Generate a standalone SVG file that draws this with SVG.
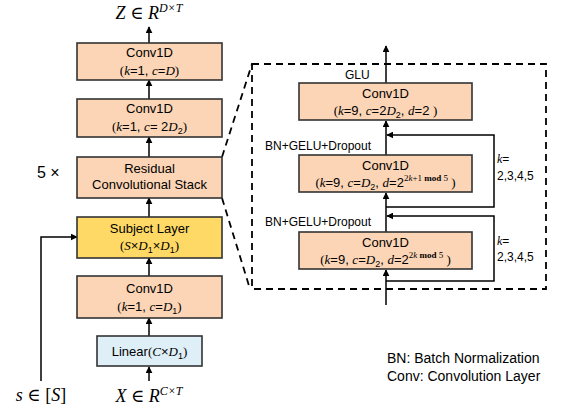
<svg xmlns="http://www.w3.org/2000/svg" width="562" height="411" viewBox="0 0 562 411">
  <defs>
    <marker id="arrow" viewBox="0 0 10 10" refX="9" refY="5" markerWidth="7" markerHeight="7" orient="auto" markerUnits="userSpaceOnUse">
      <path d="M0,0 L10,5 L0,10 z" fill="#000"/>
    </marker>
    <style>
      .box { stroke: #333; stroke-width: 1.6; }
      .conv { fill: #FBD5B5; }
      .subj { fill: #FFD966; }
      .lin { fill: #DEEFF7; }
      .line { fill: none; stroke: #000; stroke-width: 1.5; }
      .dash { fill: none; stroke: #000; stroke-width: 1.8; stroke-dasharray: 7 5; }
      .t { font-family: "Liberation Sans", Arial, sans-serif; font-size: 13px; fill: #000; }
      .s { font-family: "Liberation Sans", Arial, sans-serif; font-size: 12px; fill: #000; }
      .m { font-family: "Liberation Serif", "DejaVu Serif", serif; font-style: italic; }
      .r { font-family: "Liberation Serif", "DejaVu Serif", serif; font-style: normal; }
      .big { font-family: "Liberation Serif", "DejaVu Serif", serif; font-size: 18px; fill: #000; }
      .rep { font-family: "Liberation Sans", Arial, sans-serif; font-size: 16px; fill: #000; }
      .leg { font-family: "Liberation Sans", Arial, sans-serif; font-size: 14px; fill: #000; }
    </style>
  </defs>

  <!-- connectors -->
  <g id="connectors">
    <!-- left column -->
    <line class="line" x1="149" y1="381" x2="149" y2="367" marker-end="url(#arrow)"/>
    <line class="line" x1="149" y1="336" x2="149" y2="318" marker-end="url(#arrow)"/>
    <line class="line" x1="149" y1="276" x2="149" y2="258" marker-end="url(#arrow)"/>
    <line class="line" x1="149" y1="217" x2="149" y2="198" marker-end="url(#arrow)"/>
    <line class="line" x1="149" y1="157" x2="149" y2="137" marker-end="url(#arrow)"/>
    <line class="line" x1="149" y1="99" x2="149" y2="80" marker-end="url(#arrow)"/>
    <line class="line" x1="149" y1="43" x2="149" y2="27" marker-end="url(#arrow)"/>
    <polyline class="line" points="41,381 41,237 77,237" marker-end="url(#arrow)"/>

    <!-- zoom lines to the expanded stack -->
    <line class="dash" x1="222" y1="157" x2="252" y2="64"/>
    <line class="dash" x1="222" y1="198" x2="250" y2="289"/>
    <rect class="dash" x="252" y="64" width="294" height="225"/>

    <!-- right column -->
    <line class="line" x1="386" y1="305" x2="386" y2="270" marker-end="url(#arrow)"/>
    <line class="line" x1="386" y1="232" x2="386" y2="193" marker-end="url(#arrow)"/>
    <line class="line" x1="386" y1="155" x2="386" y2="121" marker-end="url(#arrow)"/>
    <line class="line" x1="386" y1="83" x2="386" y2="46" marker-end="url(#arrow)"/>

    <!-- residual skips -->
    <polyline class="line" points="386,281 494,281 494,216 387,216" marker-end="url(#arrow)"/>
    <polyline class="line" points="386,207 494,207 494,135 387,135" marker-end="url(#arrow)"/>
  </g>

  <!-- outer labels -->
  <text class="big" x="149" y="19" text-anchor="middle"><tspan class="m">Z</tspan> ∈ <tspan class="m">R</tspan><tspan class="m" font-size="12" dy="-7">D×T</tspan></text>
  <text class="big" x="149" y="402" text-anchor="middle"><tspan class="m">X</tspan> ∈ <tspan class="m">R</tspan><tspan class="m" font-size="12" dy="-7">C×T</tspan></text>
  <text class="big" x="41" y="401" text-anchor="middle"><tspan class="m">s</tspan> ∈ [<tspan class="m">S</tspan>]</text>
  <text class="rep" x="37" y="178">5 ×</text>

  <!-- left column nodes -->
  <g id="conv_out">
    <rect class="box conv" x="77" y="43" width="145" height="37"/>
    <text class="t" x="149.5" y="57" text-anchor="middle">Conv1D</text>
    <text class="t" x="149.5" y="75" text-anchor="middle"><tspan class="r">(</tspan><tspan class="m">k</tspan>=1, <tspan class="m">c</tspan>=<tspan class="m">D</tspan><tspan class="r">)</tspan></text>
  </g>
  <g id="conv_2d2">
    <rect class="box conv" x="77" y="99" width="145" height="38"/>
    <text class="t" x="149.5" y="113" text-anchor="middle">Conv1D</text>
    <text class="t" x="149.5" y="131" text-anchor="middle"><tspan class="r">(</tspan><tspan class="m">k</tspan>=1, <tspan class="m">c</tspan>= 2<tspan class="m">D</tspan><tspan font-size="9" dy="3">2</tspan><tspan class="r" dy="-3">)</tspan></text>
  </g>
  <g id="residual_stack">
    <rect class="box conv" x="77" y="157" width="145" height="41"/>
    <text class="t" x="149.5" y="173" text-anchor="middle">Residual</text>
    <text class="t" x="149.5" y="189" text-anchor="middle">Convolutional Stack</text>
  </g>
  <g id="subject_layer">
    <rect class="box subj" x="77" y="217" width="145" height="41"/>
    <text class="t" x="149.5" y="233" text-anchor="middle">Subject Layer</text>
    <text class="t" x="149.5" y="250" text-anchor="middle"><tspan class="r">(</tspan><tspan class="m">S</tspan>×<tspan class="m">D</tspan><tspan font-size="9" dy="3">1</tspan><tspan dy="-3">×</tspan><tspan class="m">D</tspan><tspan font-size="9" dy="3">1</tspan><tspan class="r" dy="-3">)</tspan></text>
  </g>
  <g id="conv_d1">
    <rect class="box conv" x="77" y="276" width="145" height="42"/>
    <text class="t" x="149.5" y="293" text-anchor="middle">Conv1D</text>
    <text class="t" x="149.5" y="311" text-anchor="middle"><tspan class="r">(</tspan><tspan class="m">k</tspan>=1, <tspan class="m">c</tspan>=<tspan class="m">D</tspan><tspan font-size="9" dy="3">1</tspan><tspan class="r" dy="-3">)</tspan></text>
  </g>
  <g id="linear">
    <rect class="box lin" x="97" y="336" width="105" height="30"/>
    <text class="t" x="149.5" y="356" text-anchor="middle">Linear<tspan class="r">(</tspan><tspan class="m">C</tspan>×<tspan class="m">D</tspan><tspan font-size="9" dy="3">1</tspan><tspan class="r" dy="-3">)</tspan></text>
  </g>

  <!-- expanded residual stack -->
  <g id="conv_glu">
    <rect class="box conv" x="299" y="83" width="173" height="37"/>
    <text class="t" x="385.5" y="98" text-anchor="middle">Conv1D</text>
    <text class="t" x="385.5" y="115" text-anchor="middle"><tspan class="r">(</tspan><tspan class="m">k</tspan>=9, <tspan class="m">c</tspan>=2<tspan class="m">D</tspan><tspan font-size="9" dy="3">2</tspan><tspan dy="-3">, </tspan><tspan class="m">d</tspan>=2 <tspan class="r">)</tspan></text>
  </g>
  <g id="conv_dil_odd">
    <rect class="box conv" x="299" y="155" width="173" height="37"/>
    <text class="t" x="385.5" y="170" text-anchor="middle">Conv1D</text>
    <text class="t" x="385.5" y="187" text-anchor="middle"><tspan class="r">(</tspan><tspan class="m">k</tspan>=9, <tspan class="m">c</tspan>=<tspan class="m">D</tspan><tspan font-size="9" dy="3">2</tspan><tspan dy="-3">, </tspan><tspan class="m">d</tspan>=2<tspan class="r" font-size="9" dy="-6">2<tspan class="m">k</tspan>+1 <tspan font-weight="bold">mod</tspan> 5</tspan><tspan class="r" dy="6"> )</tspan></text>
  </g>
  <g id="conv_dil_even">
    <rect class="box conv" x="299" y="232" width="173" height="37"/>
    <text class="t" x="385.5" y="247" text-anchor="middle">Conv1D</text>
    <text class="t" x="385.5" y="264" text-anchor="middle"><tspan class="r">(</tspan><tspan class="m">k</tspan>=9, <tspan class="m">c</tspan>=<tspan class="m">D</tspan><tspan font-size="9" dy="3">2</tspan><tspan dy="-3">, </tspan><tspan class="m">d</tspan>=2<tspan class="r" font-size="9" dy="-6">2<tspan class="m">k</tspan> <tspan font-weight="bold">mod</tspan> 5</tspan><tspan class="r" dy="6">  )</tspan></text>
  </g>

  <!-- stack labels -->
  <text class="s" x="345" y="79">GLU</text>
  <text class="s" x="265" y="150">BN+GELU+Dropout</text>
  <text class="s" x="265" y="226">BN+GELU+Dropout</text>
  <text class="s" x="497" y="163"><tspan class="m">k</tspan>=</text>
  <text class="s" x="497" y="180">2,3,4,5</text>
  <text class="s" x="497" y="245"><tspan class="m">k</tspan>=</text>
  <text class="s" x="497" y="261">2,3,4,5</text>

  <!-- legend -->
  <text class="leg" x="387" y="363">BN: Batch Normalization</text>
  <text class="leg" x="387" y="381">Conv: Convolution Layer</text>
</svg>
